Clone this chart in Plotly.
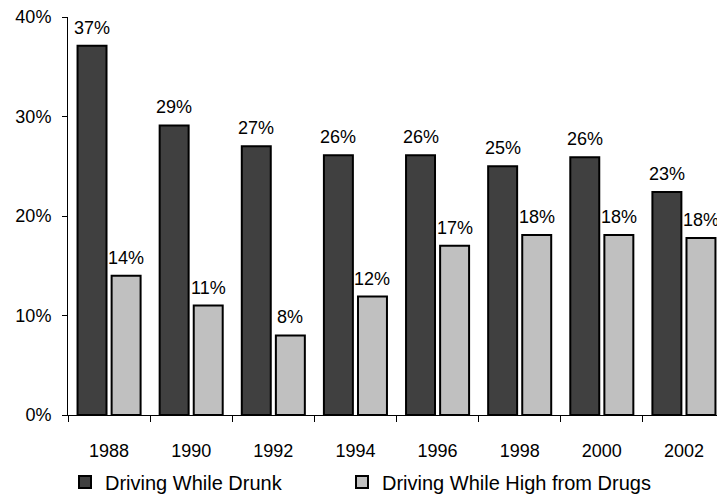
import plotly.graph_objects as go

years = ["1988", "1990", "1992", "1994", "1996", "1998", "2000", "2002"]
drunk = [37.1, 29.1, 27.0, 26.1, 26.1, 25.0, 25.9, 22.4]
drugs = [14.0, 11.0, 8.0, 11.9, 17.0, 18.1, 18.1, 17.8]
drunk_labels = ["37%", "29%", "27%", "26%", "26%", "25%", "26%", "23%"]
drugs_labels = ["14%", "11%", "8%", "12%", "17%", "18%", "18%", "18%"]

FONT = "Liberation Sans, Arial, sans-serif"
FS = 18

fig = go.Figure()
fig.add_trace(go.Bar(
    x=years, y=drunk, name="Driving While Drunk", legend="legend",
    marker=dict(color="#404040", line=dict(color="black", width=2)),
))
fig.add_trace(go.Bar(
    x=years, y=drugs, name="Driving While High from Drugs", legend="legend2",
    marker=dict(color="#c0c0c0", line=dict(color="black", width=2)),
))

annotations = []
for i, (v, t) in enumerate(zip(drunk, drunk_labels)):
    annotations.append(dict(x=i, y=v, text=t, showarrow=False, xref="x", yref="y",
                            xanchor="center", yanchor="bottom", xshift=-17, yshift=6,
                            font=dict(size=FS, color="black", family=FONT)))
for i, (v, t) in enumerate(zip(drugs, drugs_labels)):
    annotations.append(dict(x=i, y=v, text=t, showarrow=False, xref="x", yref="y",
                            xanchor="center", yanchor="bottom", xshift=17, yshift=6,
                            font=dict(size=FS, color="black", family=FONT)))

leg_common = dict(orientation="h", y=0.0307, xref="container", yref="container",
                  xanchor="left", yanchor="middle", font=dict(size=20), itemwidth=30,
                  bgcolor="rgba(0,0,0,0)")

# page body has an 8px margin, so the figure is sized/offset to compensate
fig.update_layout(
    width=717, height=489,
    margin=dict(l=60, r=0, t=9, b=82, autoexpand=False),
    paper_bgcolor="white", plot_bgcolor="white",
    barmode="group", bargap=0.17, bargroupgap=0.15,
    font=dict(family=FONT, size=FS, color="black"),
    showlegend=True,
    legend=dict(x=0.0795, **leg_common),
    legend2=dict(x=0.4658, **leg_common),
    annotations=annotations,
)
fig.update_xaxes(
    type="category", range=[-0.5, len(years) - 0.5],
    showline=True, linecolor="black", linewidth=1,
    ticks="outside", tickson="boundaries", ticklen=6, tickcolor="black",
    showgrid=False, tickfont=dict(size=FS), ticklabelstandoff=19,
)
fig.update_yaxes(
    range=[0, 40], tickvals=[0, 10, 20, 30, 40],
    ticktext=["0%", "10%", "20%", "30%", "40%"],
    showline=True, linecolor="black", linewidth=1,
    ticks="outside", ticklen=5, tickcolor="black", ticklabeloverflow="allow",
    showgrid=False, zeroline=False, tickfont=dict(size=FS), ticklabelstandoff=7,
)

fig.write_html("out.html")
